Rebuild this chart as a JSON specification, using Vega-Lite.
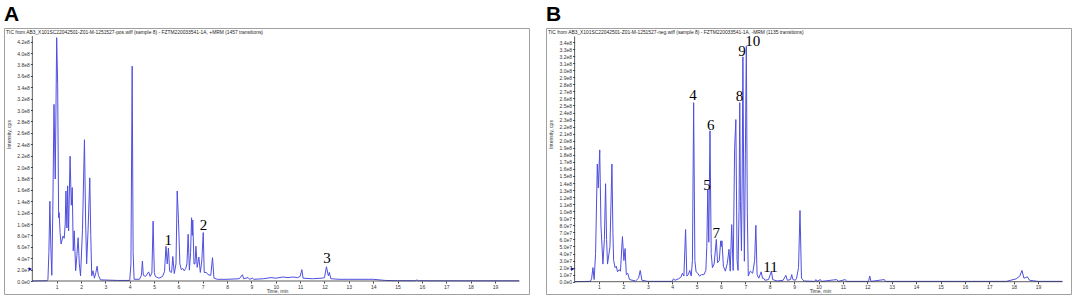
{
  "$schema": "https://vega.github.io/schema/vega-lite/v6.json",
  "padding": {"left": 3, "top": 3, "right": 4, "bottom": 4},
  "spacing": 15,
  "background": "white",
  "config": {
    "view": {"stroke": "#a0a0a0", "strokeWidth": 1},
    "axis": {"labelFont": "Liberation Sans", "titleFont": "Liberation Sans", "labelFontSize": 5, "titleFontSize": 5, "titleFontWeight": "normal", "grid": false, "domain": false, "tickColor": "#444", "labelColor": "#333", "titleColor": "#333", "tickSize": 2, "labelOverlap": false, "labelFlush": false, "labelBound": false, "tickCount": 100},
    "title": {"font": "Liberation Sans", "fontSize": 21, "fontWeight": "bold", "anchor": "start", "color": "#000", "offset": 3}
  },
  "datasets": {
    "pos": [
      {"t":0,"v":0},{"t":0.6,"v":0.5e6},{"t":0.64,"v":2e6},{"t":0.68,"v":5e7},{"t":0.72,"v":1.40e8},{"t":0.76,"v":0.6e8},{"t":0.8,"v":0.1e8},{"t":0.84,"v":1.2e8},{"t":0.89,"v":3.10e8},{"t":0.94,"v":1.79e8},{"t":0.97,"v":3.0e8},{"t":1.0,"v":4.27e8},{"t":1.04,"v":3.45e8},{"t":1.08,"v":1.11e8},{"t":1.1,"v":1.2e8},{"t":1.14,"v":0.85e8},{"t":1.18,"v":0.65e8},{"t":1.26,"v":0.79e8},{"t":1.31,"v":0.75e8},{"t":1.35,"v":1.0e8},{"t":1.38,"v":1.58e8},{"t":1.42,"v":0.93e8},{"t":1.45,"v":1.67e8},{"t":1.49,"v":0.88e8},{"t":1.55,"v":2.19e8},{"t":1.6,"v":1.33e8},{"t":1.64,"v":1.64e8},{"t":1.68,"v":0.53e8},{"t":1.72,"v":0.88e8},{"t":1.78,"v":0.18e8},{"t":1.83,"v":0.45e8},{"t":1.88,"v":0.76e8},{"t":1.93,"v":0.3e8},{"t":1.98,"v":0.09e8},{"t":2.06,"v":0.9e8},{"t":2.14,"v":2.48e8},{"t":2.19,"v":1.0e8},{"t":2.23,"v":0.3e8},{"t":2.29,"v":0.9e8},{"t":2.36,"v":1.81e8},{"t":2.4,"v":0.8e8},{"t":2.44,"v":0.09e8},{"t":2.49,"v":0.18e8},{"t":2.55,"v":0.05e8},{"t":2.61,"v":0.15e8},{"t":2.66,"v":0.26e8},{"t":2.71,"v":0.1e8},{"t":2.8,"v":0.02e8},{"t":3.5,"v":0.01e8},{"t":4.0,"v":0.01e8},{"t":4.05,"v":0.3e8},{"t":4.1,"v":3.77e8},{"t":4.14,"v":0.5e8},{"t":4.18,"v":0.03e8},{"t":4.4,"v":0.03e8},{"t":4.48,"v":0.1e8},{"t":4.52,"v":0.35e8},{"t":4.56,"v":0.1e8},{"t":4.65,"v":0.08e8},{"t":4.78,"v":0.16e8},{"t":4.84,"v":0.08e8},{"t":4.91,"v":0.14e8},{"t":4.96,"v":1.05e8},{"t":5.01,"v":0.15e8},{"t":5.05,"v":0.08e8},{"t":5.2,"v":0.05e8},{"t":5.35,"v":0.08e8},{"t":5.43,"v":0.17e8},{"t":5.49,"v":0.61e8},{"t":5.54,"v":0.3e8},{"t":5.59,"v":0.58e8},{"t":5.64,"v":0.17e8},{"t":5.72,"v":0.15e8},{"t":5.77,"v":0.43e8},{"t":5.83,"v":0.13e8},{"t":5.9,"v":0.3e8},{"t":5.95,"v":1.58e8},{"t":6.0,"v":1.1e8},{"t":6.06,"v":0.3e8},{"t":6.12,"v":0.2e8},{"t":6.18,"v":0.22e8},{"t":6.24,"v":0.18e8},{"t":6.3,"v":0.22e8},{"t":6.35,"v":0.3e8},{"t":6.4,"v":0.82e8},{"t":6.45,"v":0.19e8},{"t":6.5,"v":0.5e8},{"t":6.54,"v":1.11e8},{"t":6.57,"v":0.8e8},{"t":6.59,"v":1.07e8},{"t":6.64,"v":0.3e8},{"t":6.68,"v":0.3e8},{"t":6.72,"v":0.61e8},{"t":6.77,"v":0.24e8},{"t":6.84,"v":0.42e8},{"t":6.9,"v":0.15e8},{"t":6.96,"v":0.35e8},{"t":7.02,"v":0.85e8},{"t":7.06,"v":0.15e8},{"t":7.15,"v":0.15e8},{"t":7.22,"v":0.11e8},{"t":7.33,"v":0.1e8},{"t":7.4,"v":0.41e8},{"t":7.46,"v":0.05e8},{"t":7.6,"v":0.03e8},{"t":8.0,"v":0.03e8},{"t":8.5,"v":0.04e8},{"t":8.63,"v":0.11e8},{"t":8.68,"v":0.04e8},{"t":8.86,"v":0.06e8},{"t":8.92,"v":0.03e8},{"t":9.05,"v":0.05e8},{"t":9.1,"v":0.03e8},{"t":9.5,"v":0.04e8},{"t":9.8,"v":0.06e8},{"t":10.0,"v":0.05e8},{"t":10.3,"v":0.07e8},{"t":10.5,"v":0.06e8},{"t":10.7,"v":0.07e8},{"t":10.9,"v":0.06e8},{"t":11.0,"v":0.08e8},{"t":11.07,"v":0.2e8},{"t":11.12,"v":0.05e8},{"t":11.5,"v":0.04e8},{"t":11.9,"v":0.05e8},{"t":12.0,"v":0.06e8},{"t":12.08,"v":0.25e8},{"t":12.16,"v":0.09e8},{"t":12.2,"v":0.15e8},{"t":12.26,"v":0.04e8},{"t":12.6,"v":0.03e8},{"t":13.0,"v":0.03e8},{"t":13.5,"v":0.03e8},{"t":14.0,"v":0.03e8},{"t":14.5,"v":0.01e8},{"t":15.0,"v":0.5e6},{"t":15.75,"v":0.5e6},{"t":15.8,"v":2e6},{"t":15.85,"v":0.5e6},{"t":16.5,"v":0.3e6},{"t":20,"v":0.3e6}
    ],
    "neg": [
      {"t":0,"v":0},{"t":0.65,"v":0.5e6},{"t":0.7,"v":0.05e8},{"t":0.75,"v":0.2e8},{"t":0.8,"v":0.03e8},{"t":0.86,"v":0.4e8},{"t":0.93,"v":1.67e8},{"t":0.97,"v":1.33e8},{"t":1.03,"v":1.87e8},{"t":1.08,"v":0.8e8},{"t":1.16,"v":0.25e8},{"t":1.22,"v":0.6e8},{"t":1.27,"v":1.39e8},{"t":1.31,"v":0.6e8},{"t":1.35,"v":0.25e8},{"t":1.45,"v":0.5e8},{"t":1.53,"v":1.67e8},{"t":1.57,"v":0.7e8},{"t":1.6,"v":0.3e8},{"t":1.66,"v":0.2e8},{"t":1.71,"v":0.22e8},{"t":1.76,"v":0.14e8},{"t":1.82,"v":0.17e8},{"t":1.88,"v":0.15e8},{"t":1.96,"v":0.64e8},{"t":2.02,"v":0.3e8},{"t":2.07,"v":0.47e8},{"t":2.12,"v":0.1e8},{"t":2.18,"v":0.12e8},{"t":2.25,"v":0.03e8},{"t":2.5,"v":0.01e8},{"t":2.62,"v":0.05e8},{"t":2.69,"v":0.16e8},{"t":2.76,"v":0.02e8},{"t":3.0,"v":0.5e6},{"t":4.0,"v":0.5e6},{"t":4.05,"v":0.04e8},{"t":4.12,"v":0.02e8},{"t":4.25,"v":0.04e8},{"t":4.35,"v":0.06e8},{"t":4.42,"v":0.12e8},{"t":4.48,"v":0.08e8},{"t":4.55,"v":0.74e8},{"t":4.6,"v":0.08e8},{"t":4.66,"v":0.1e8},{"t":4.72,"v":0.16e8},{"t":4.78,"v":0.08e8},{"t":4.83,"v":0.3e8},{"t":4.88,"v":2.54e8},{"t":4.93,"v":0.3e8},{"t":4.98,"v":0.14e8},{"t":5.05,"v":0.12e8},{"t":5.12,"v":0.08e8},{"t":5.2,"v":0.1e8},{"t":5.3,"v":0.1e8},{"t":5.38,"v":0.16e8},{"t":5.42,"v":0.5e8},{"t":5.46,"v":1.31e8},{"t":5.5,"v":0.56e8},{"t":5.55,"v":2.14e8},{"t":5.6,"v":0.4e8},{"t":5.65,"v":0.2e8},{"t":5.72,"v":0.25e8},{"t":5.81,"v":0.6e8},{"t":5.86,"v":0.27e8},{"t":5.93,"v":0.3e8},{"t":5.99,"v":0.58e8},{"t":6.02,"v":0.5e8},{"t":6.04,"v":0.58e8},{"t":6.1,"v":0.22e8},{"t":6.18,"v":0.15e8},{"t":6.26,"v":0.26e8},{"t":6.33,"v":0.46e8},{"t":6.38,"v":0.15e8},{"t":6.44,"v":0.81e8},{"t":6.5,"v":0.16e8},{"t":6.56,"v":1.9e8},{"t":6.61,"v":2.3e8},{"t":6.66,"v":0.3e8},{"t":6.7,"v":0.16e8},{"t":6.74,"v":1.0e8},{"t":6.77,"v":2.54e8},{"t":6.8,"v":1.14e8},{"t":6.84,"v":0.44e8},{"t":6.87,"v":1.5e8},{"t":6.9,"v":3.19e8},{"t":6.94,"v":1.0e8},{"t":6.96,"v":0.29e8},{"t":7.0,"v":1.8e8},{"t":7.04,"v":3.34e8},{"t":7.08,"v":1.0e8},{"t":7.12,"v":0.08e8},{"t":7.2,"v":0.15e8},{"t":7.3,"v":0.12e8},{"t":7.38,"v":0.3e8},{"t":7.43,"v":0.8e8},{"t":7.48,"v":0.1e8},{"t":7.55,"v":0.05e8},{"t":7.65,"v":0.14e8},{"t":7.7,"v":0.05e8},{"t":7.75,"v":0.05e8},{"t":7.8,"v":0.02e8},{"t":7.95,"v":0.03e8},{"t":8.07,"v":0.15e8},{"t":8.12,"v":0.03e8},{"t":8.3,"v":0.01e8},{"t":8.55,"v":0.02e8},{"t":8.66,"v":0.09e8},{"t":8.72,"v":0.02e8},{"t":8.85,"v":0.03e8},{"t":8.9,"v":0.1e8},{"t":8.95,"v":0.03e8},{"t":9.05,"v":0.02e8},{"t":9.1,"v":0.05e8},{"t":9.18,"v":0.2e8},{"t":9.24,"v":1.01e8},{"t":9.3,"v":0.05e8},{"t":9.4,"v":0.01e8},{"t":9.85,"v":0.5e6},{"t":9.89,"v":0.03e8},{"t":9.93,"v":0.5e6},{"t":10.08,"v":0.03e8},{"t":10.12,"v":0.5e6},{"t":10.75,"v":0.03e8},{"t":10.8,"v":0.5e6},{"t":11.1,"v":0.03e8},{"t":11.15,"v":0.5e6},{"t":12.05,"v":0.5e6},{"t":12.1,"v":0.08e8},{"t":12.15,"v":0.5e6},{"t":12.7,"v":0.03e8},{"t":12.74,"v":0.5e6},{"t":17.7,"v":0.5e6},{"t":18.1,"v":0.04e8},{"t":18.25,"v":0.08e8},{"t":18.34,"v":0.16e8},{"t":18.42,"v":0.05e8},{"t":18.5,"v":0.06e8},{"t":18.56,"v":0.07e8},{"t":18.65,"v":0.02e8},{"t":19.0,"v":0.5e6},{"t":20,"v":0.5e6}
    ],
    "posLabels": [
      {"t":5.58,"v":0.64e8,"label":"1"},{"t":7.03,"v":0.89e8,"label":"2"},{"t":12.1,"v":0.31e8,"label":"3"}
    ],
    "negLabels": [
      {"t":4.85,"v":2.58e8,"label":"4"},{"t":5.43,"v":1.3e8,"label":"5"},{"t":5.58,"v":2.15e8,"label":"6"},{"t":5.81,"v":0.62e8,"label":"7"},{"t":6.76,"v":2.57e8,"label":"8"},{"t":6.86,"v":3.2e8,"label":"9"},{"t":7.3,"v":3.34e8,"label":"10"},{"t":8.03,"v":0.14e8,"label":"11"}
    ],
    "posHeader": [{"text":"TIC from AB3_X101SC22042501-Z01-M-1251527-pos.wiff (sample 8) - FZTM220033541-1A, +MRM (1457 transitions)"}],
    "negHeader": [{"text":"TIC from AB3_X101SC22042501-Z01-M-1251527-neg.wiff (sample 8) - FZTM220033541-1A, -MRM (1135 transitions)"}]
  },
  "hconcat": [
    {
      "title": "A",
      "width": 525,
      "height": 266,
      "layer": [
        {
          "data": {"name": "pos"},
          "mark": {"type": "line", "color": "#4f4fe0", "strokeWidth": 1},
          "encoding": {
            "x": {"field": "t", "type": "quantitative", "scale": {"domain": [-1.164, 20.4], "nice": false, "zero": false},
                  "axis": {"values": [1,2,3,4,5,6,7,8,9,10,11,12,13,14,15,16,17,18,19], "format": "d", "tickCount": 100, "labelOverlap": false, "offset": -13, "title": "Time, min", "titleX": 273, "titleY": 7, "titleBaseline": "top", "labelPadding": 1}},
            "y": {"field": "v", "type": "quantitative", "scale": {"domain": [-2.28e7, 4.44e8], "nice": false, "zero": false},
                  "axis": {"values": [0,2e7,4e7,6e7,8e7,1e8,1.2e8,1.4e8,1.6e8,1.8e8,2e8,2.2e8,2.4e8,2.6e8,2.8e8,3e8,3.2e8,3.4e8,3.6e8,3.8e8,4e8,4.2e8], "tickCount": 100, "labelOverlap": false,
                           "labelExpr": "replace(format(datum.value, '.1e'), '+', '')", "offset": -28.35, "title": "Intensity, cps", "titleX": -24, "titleY": 106, "titleAngle": -90, "titleAlign": "center", "titleBaseline": "middle", "labelPadding": 1}}
          }
        },
        {
          "data": {"values": [{}]},
          "mark": {"type": "rule", "color": "#333", "strokeWidth": 0.8},
          "encoding": {"x": {"datum": 0, "type": "quantitative"}, "y": {"datum": 0, "type": "quantitative"}, "y2": {"datum": 4.3e8}}
        },
        {
          "data": {"values": [{}]},
          "mark": {"type": "rule", "color": "#333", "strokeWidth": 0.8},
          "encoding": {"y": {"datum": 0, "type": "quantitative"}, "x": {"datum": 0, "type": "quantitative"}, "x2": {"datum": 20}}
        },
        {
          "data": {"values": [{}]},
          "mark": {"type": "point", "shape": "triangle-right", "filled": true, "size": 14, "color": "#1010a0", "opacity": 1},
          "encoding": {"x": {"datum": -0.08, "type": "quantitative"}, "y": {"datum": 2.1e7, "type": "quantitative"}}
        },
        {
          "data": {"name": "posHeader"},
          "mark": {"type": "text", "font": "Liberation Sans", "fontSize": 4.9, "align": "left", "baseline": "top", "color": "#222"},
          "encoding": {"x": {"datum": -1.08, "type": "quantitative"}, "y": {"datum": 4.405e8, "type": "quantitative"}, "text": {"field": "text"}}
        },
        {
          "data": {"name": "posLabels"},
          "mark": {"type": "text", "font": "Liberation Serif", "fontSize": 15, "align": "center", "baseline": "alphabetic", "color": "#000"},
          "encoding": {"x": {"field": "t", "type": "quantitative"}, "y": {"field": "v", "type": "quantitative"}, "text": {"field": "label"}}
        }
      ]
    },
    {
      "title": "B",
      "width": 525,
      "height": 266,
      "layer": [
        {
          "data": {"name": "neg"},
          "mark": {"type": "line", "color": "#4f4fe0", "strokeWidth": 1},
          "encoding": {
            "x": {"field": "t", "type": "quantitative", "scale": {"domain": [-1.173, 20.35], "nice": false, "zero": false},
                  "axis": {"values": [1,2,3,4,5,6,7,8,9,10,11,12,13,14,15,16,17,18,19], "format": "d", "tickCount": 100, "labelOverlap": false, "offset": -12.3, "title": "Time, min", "titleX": 274, "titleY": 7, "titleBaseline": "top", "labelPadding": 1}},
            "y": {"field": "v", "type": "quantitative", "scale": {"domain": [-1.745e7, 3.599e8], "nice": false, "zero": false},
                  "axis": {"values": [0,1e7,2e7,3e7,4e7,5e7,6e7,7e7,8e7,9e7,1e8,1.1e8,1.2e8,1.3e8,1.4e8,1.5e8,1.6e8,1.7e8,1.8e8,1.9e8,2e8,2.1e8,2.2e8,2.3e8,2.4e8,2.5e8,2.6e8,2.7e8,2.8e8,2.9e8,3e8,3.1e8,3.2e8,3.3e8,3.4e8], "tickCount": 100, "labelOverlap": false,
                           "labelExpr": "replace(format(datum.value, '.1e'), '+', '')", "offset": -28.6, "title": "Intensity, cps", "titleX": -24, "titleY": 106, "titleAngle": -90, "titleAlign": "center", "titleBaseline": "middle", "labelPadding": 1}}
          }
        },
        {
          "data": {"values": [{}]},
          "mark": {"type": "rule", "color": "#333", "strokeWidth": 0.8},
          "encoding": {"x": {"datum": 0, "type": "quantitative"}, "y": {"datum": 0, "type": "quantitative"}, "y2": {"datum": 3.48e8}}
        },
        {
          "data": {"values": [{}]},
          "mark": {"type": "rule", "color": "#333", "strokeWidth": 0.8},
          "encoding": {"y": {"datum": 0, "type": "quantitative"}, "x": {"datum": 0, "type": "quantitative"}, "x2": {"datum": 20}}
        },
        {
          "data": {"values": [{}]},
          "mark": {"type": "point", "shape": "triangle-right", "filled": true, "size": 14, "color": "#1010a0", "opacity": 1},
          "encoding": {"x": {"datum": -0.08, "type": "quantitative"}, "y": {"datum": 1.8e7, "type": "quantitative"}}
        },
        {
          "data": {"name": "negHeader"},
          "mark": {"type": "text", "font": "Liberation Sans", "fontSize": 4.9, "align": "left", "baseline": "top", "color": "#222"},
          "encoding": {"x": {"datum": -1.09, "type": "quantitative"}, "y": {"datum": 3.57e8, "type": "quantitative"}, "text": {"field": "text"}}
        },
        {
          "data": {"name": "negLabels"},
          "mark": {"type": "text", "font": "Liberation Serif", "fontSize": 15, "align": "center", "baseline": "alphabetic", "color": "#000"},
          "encoding": {"x": {"field": "t", "type": "quantitative"}, "y": {"field": "v", "type": "quantitative"}, "text": {"field": "label"}}
        }
      ]
    }
  ]
}
